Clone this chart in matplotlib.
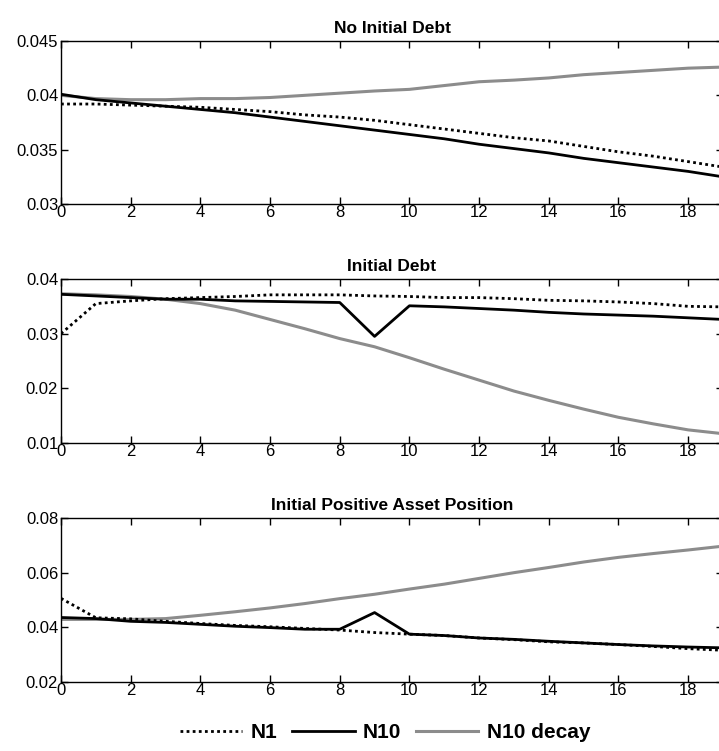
import numpy as np
import matplotlib
matplotlib.use("Agg")
import matplotlib.pyplot as plt

plt.rcParams['font.family'] = ['Liberation Sans Narrow', 'Liberation Sans', 'DejaVu Sans']

# periods
x = np.arange(20)

# No Initial Debt
nodebt_n1 = [0.0392, 0.0392, 0.0391, 0.0390, 0.0389, 0.0387, 0.0385, 0.0382, 0.0380, 0.0377,
             0.0373, 0.0369, 0.0365, 0.0361, 0.0358, 0.0353, 0.0348, 0.0344, 0.0339, 0.0334]
nodebt_n10 = [0.0401, 0.0396, 0.0393, 0.0390, 0.0387, 0.0384, 0.0380, 0.0376, 0.0372, 0.0368,
              0.0364, 0.0360, 0.0355, 0.0351, 0.0347, 0.0342, 0.0338, 0.0334, 0.0330, 0.0325]
nodebt_decay = [0.0400, 0.0397, 0.0396, 0.0396, 0.0397, 0.0397, 0.0398, 0.0400, 0.0402, 0.0404,
                0.04055, 0.0409, 0.04125, 0.0414, 0.0416, 0.0419, 0.0421, 0.0423, 0.0425, 0.0426]

# Initial Debt
debt_n1 = [0.0300, 0.0355, 0.0360, 0.0364, 0.0366, 0.0368, 0.0371, 0.0371, 0.0371, 0.0369,
           0.0368, 0.0366, 0.0366, 0.0364, 0.0361, 0.0360, 0.0358, 0.0355, 0.0350, 0.0349]
debt_n10 = [0.0372, 0.0369, 0.0366, 0.0363, 0.0363, 0.0360, 0.0359, 0.0358, 0.0357, 0.0295,
            0.0351, 0.0349, 0.0346, 0.0343, 0.0339, 0.0336, 0.0334, 0.0332, 0.0329, 0.0326]
debt_decay = [0.0373, 0.0371, 0.0368, 0.0363, 0.0355, 0.0343, 0.0326, 0.0309, 0.0291, 0.0276,
              0.0256, 0.0235, 0.0215, 0.0195, 0.0178, 0.0162, 0.0147, 0.0135, 0.0124, 0.0117]

# Initial Positive Asset Position
asset_n1 = [0.0506, 0.0435, 0.0431, 0.0422, 0.0414, 0.0407, 0.0402, 0.0396, 0.0390, 0.0381,
            0.0375, 0.0370, 0.0361, 0.0355, 0.0347, 0.0343, 0.0337, 0.0330, 0.0322, 0.0316]
asset_n10 = [0.0436, 0.0432, 0.0422, 0.0418, 0.0411, 0.0404, 0.0399, 0.0393, 0.0393, 0.0454,
             0.0375, 0.0370, 0.0361, 0.0356, 0.0349, 0.0343, 0.0337, 0.0332, 0.0328, 0.0325]
asset_decay = [0.0429, 0.0429, 0.0429, 0.0432, 0.0444, 0.0457, 0.0471, 0.0487, 0.0505, 0.0521,
               0.0540, 0.0558, 0.0579, 0.0600, 0.0619, 0.0639, 0.0656, 0.0670, 0.0683, 0.0697]

panels = [
    ("No Initial Debt", nodebt_n1, nodebt_n10, nodebt_decay, (0.03, 0.045), [0.03, 0.035, 0.04, 0.045]),
    ("Initial Debt", debt_n1, debt_n10, debt_decay, (0.01, 0.04), [0.01, 0.02, 0.03, 0.04]),
    ("Initial Positive Asset Position", asset_n1, asset_n10, asset_decay, (0.02, 0.08), [0.02, 0.04, 0.06, 0.08]),
]

W, H = 719, 751
fig = plt.figure(figsize=(W / 100, H / 100), dpi=100)

# axes boxes in pixels (left, top, right, bottom)
boxes = [(61, 41, 723, 204), (61, 279, 723, 443), (61, 518, 723, 682)]

for (title, n1, n10, decay, ylim, yticks), (l, t, r, b) in zip(panels, boxes):
    ax = fig.add_axes([l / W, 1 - b / H, (r - l) / W, (b - t) / H])
    ax.plot(x, decay, color='#8c8c8c', lw=2.2, label='N10 decay', zorder=2)
    ax.plot(x, n10, color='black', lw=2.0, label='N10', zorder=3)
    ax.plot(x, n1, color='black', lw=2.0, ls=(0, (1, 1.2)), label='N1', zorder=4)
    ax.set_xlim(0, 19)
    ax.set_ylim(*ylim)
    ax.set_xticks(range(0, 19, 2))
    ax.set_yticks(yticks)
    ax.set_yticklabels([f"{v:g}" for v in yticks])
    ax.tick_params(direction='in', length=5, width=1, top=True, right=True,
                   labelsize=12, pad=2)
    ax.tick_params(axis='x', pad=1)
    for s in ax.spines.values():
        s.set_linewidth(1)
    ax.set_title(title, fontsize=12.5, fontweight='bold', pad=6)

handles, labels = ax.get_legend_handles_labels()
order = [2, 1, 0]
fig.legend([handles[i] for i in order], [labels[i] for i in order],
           loc='center', bbox_to_anchor=(385 / W, 1 - 733 / H), ncol=3, frameon=False,
           prop={'weight': 'bold', 'size': 15}, handlelength=3.0, handletextpad=0.4,
           columnspacing=0.7)

fig.savefig('out.png', dpi=100)
